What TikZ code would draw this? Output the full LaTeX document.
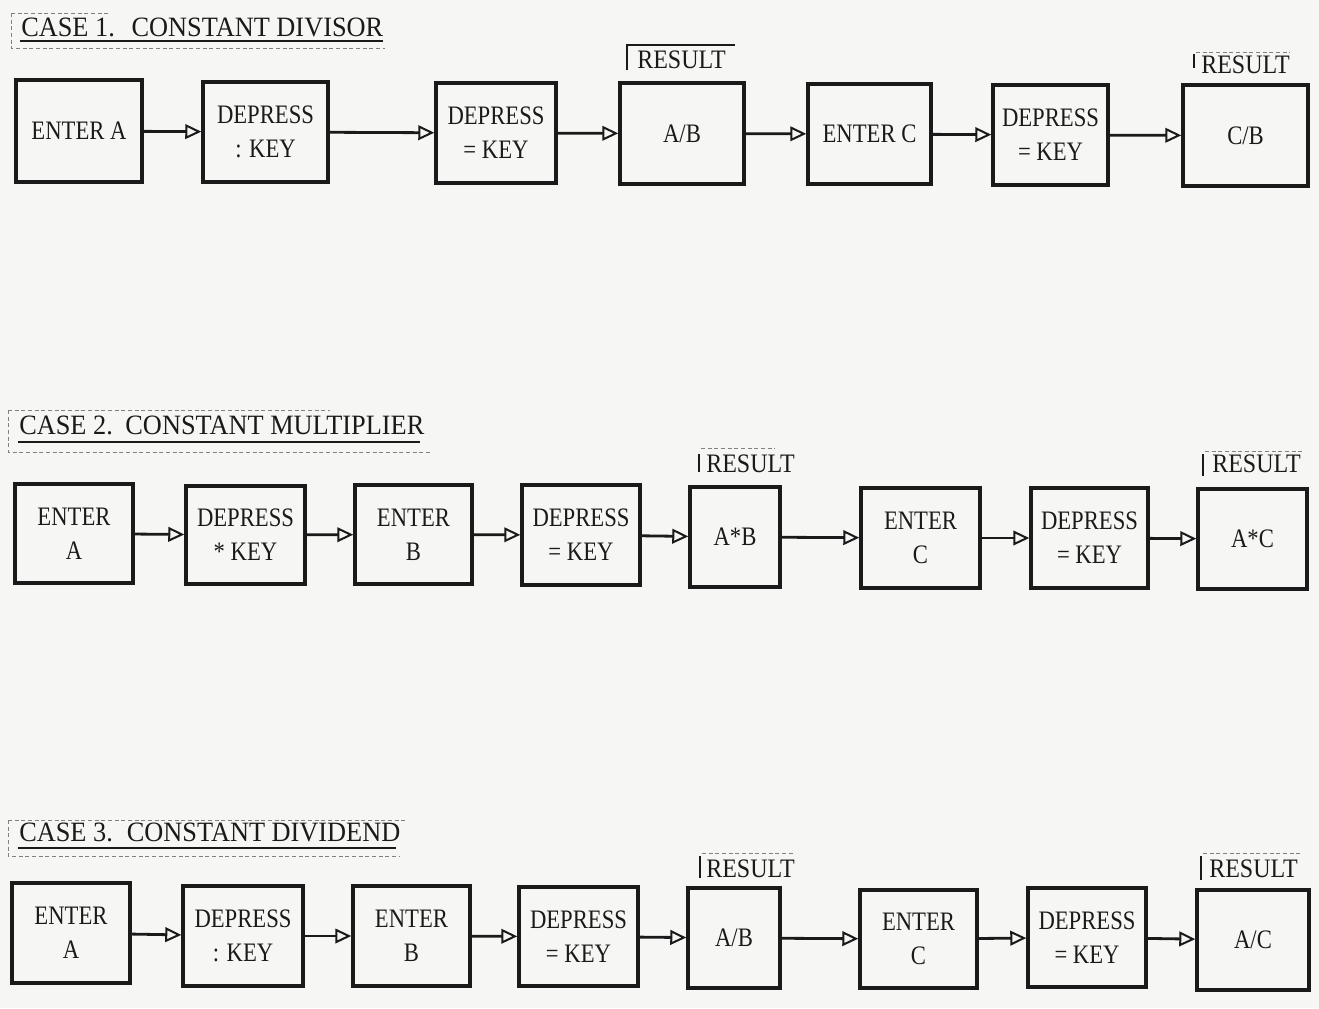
\documentclass[tikz,border=0pt]{standalone}
\usepackage{fontspec}
\setmainfont{Liberation Serif}
\newfontfamily\boxfont[FakeStretch=0.85]{Liberation Serif}
\newfontfamily\titlefont[FakeStretch=0.94]{Liberation Serif}
\newfontfamily\resfont[FakeStretch=0.9]{Liberation Serif}
\usetikzlibrary{arrows.meta,fit}
\definecolor{ink}{HTML}{1A1A1A}
\definecolor{paper}{HTML}{F6F6F4}
\tikzset{
  box/.style={draw=ink, line width=2.6pt, inner sep=0pt},
  btext/.style={inner sep=0pt, align=center, anchor=center,
    text=ink, font=\boxfont\fontsize{20}{25.5}\selectfont},
  flow/.style={draw=ink, line width=2.1pt, -{Triangle[open,length=12pt,width=11pt,line width=1.5pt]}},
  title/.style={anchor=base west, inner sep=0pt, text=ink, font=\titlefont\fontsize{21}{24}\selectfont},
  rlabel/.style={anchor=base west, inner sep=0pt, text=ink, font=\resfont\fontsize{20}{22}\selectfont},
  uline/.style={draw=ink, line width=1.8pt},
  frame/.style={draw=ink!55, line width=0.7pt, dash pattern=on 3pt off 2pt},
  tick/.style={draw=ink, line width=1.1pt},
}
% \bx{name}{x1}{y1}{x2}{y2}{text}
\newcommand\bx[6]{%
  \node[box, fit={(#2,#3) (#4,#5)}] (#1) {};
  \node[btext] (#1t) at (#1.center) {#6};
}
\begin{document}
\begin{tikzpicture}[x=0.75pt,y=-0.75pt]
\fill[paper] (0,0) rectangle (1319,1008);
\useasboundingbox (0,0) rectangle (1319,1008);

% ---------------- CASE 1 ----------------
\node[title] (t1) at (21,36) {CASE 1.\hspace{0.6em}CONSTANT DIVISOR};
\draw[uline] (20,41) -- (383,41);
\draw[frame] (11,13) -- (11,48) -- (385,48);
\draw[frame] (11,13) -- (110,13);

\bx{a1}{16}{80}{142}{182}{ENTER A}
\bx{b1}{203}{82}{328}{182}{DEPRESS\\: KEY}
\bx{c1}{436}{83}{556}{183}{DEPRESS\\= KEY}
\bx{d1}{620}{83}{744}{184}{A/B}
\bx{e1}{808}{84}{931}{184}{ENTER C}
\bx{f1}{993}{85}{1108}{185}{DEPRESS\\= KEY}
\bx{g1}{1183}{85}{1308}{186}{C/B}

\node[rlabel] (r1a) at (637,68) {RESULT};
\draw[tick] (627,70) -- (627,45) -- (735,45);
\node[rlabel] (r1b) at (1201,73) {RESULT};
\draw[tick] (1194,68) -- (1194,54);
\draw[frame] (1196,52) -- (1290,52);

\draw[flow] (a1) -- (b1);
\draw[flow] (b1) -- (c1);
\draw[flow] (c1) -- (d1);
\draw[flow] (d1) -- (e1);
\draw[flow] (e1) -- (f1);
\draw[flow] (f1) -- (g1);

% ---------------- CASE 2 ----------------
\node[title] (t2) at (19,434) {CASE 2.\hspace{0.45em}CONSTANT MULTIPLIER};
\draw[uline] (18,442) -- (420,442);
\draw[frame] (8,410) -- (8,452) -- (430,452);
\draw[frame] (8,410) -- (330,410);

\bx{a2}{15}{484}{133}{583}{ENTER\\A}
\bx{b2}{186}{486}{305}{584}{DEPRESS\\{*} KEY}
\bx{c2}{355}{485}{472}{584}{ENTER\\B}
\bx{d2}{522}{485}{640}{585}{DEPRESS\\= KEY}
\bx{e2}{690}{487}{780}{587}{A*B}
\bx{f2}{861}{488}{980}{588}{ENTER\\C}
\bx{g2}{1031}{488}{1148}{588}{DEPRESS\\= KEY}
\bx{h2}{1198}{489}{1307}{589}{A*C}

\node[rlabel] (r2a) at (706,472) {RESULT};
\draw[tick] (699,472) -- (699,454);
\draw[frame] (701,448) -- (775,448);
\node[rlabel] (r2b) at (1212,472) {RESULT};
\draw[tick] (1203,476) -- (1203,454);
\draw[frame] (1205,451) -- (1302,451);

\draw[flow] (a2) -- (b2);
\draw[flow] (b2) -- (c2);
\draw[flow] (c2) -- (d2);
\draw[flow] (d2) -- (e2);
\draw[flow] (e2) -- (f2);
\draw[flow] (f2) -- (g2);
\draw[flow] (g2) -- (h2);

% ---------------- CASE 3 ----------------
\node[title] (t3) at (19,841) {CASE 3.\hspace{0.5em}CONSTANT DIVIDEND};
\draw[uline] (18,848) -- (396,848);
\draw[frame] (8,820) -- (8,856) -- (400,856);
\draw[frame] (8,820) -- (405,820);

\bx{a3}{12}{883}{130}{983}{ENTER\\A}
\bx{b3}{183}{886}{303}{986}{DEPRESS\\: KEY}
\bx{c3}{353}{886}{470}{986}{ENTER\\B}
\bx{d3}{519}{887}{638}{986}{DEPRESS\\= KEY}
\bx{e3}{688}{888}{780}{988}{A/B}
\bx{f3}{860}{890}{977}{988}{ENTER\\C}
\bx{g3}{1028}{888}{1146}{987}{DEPRESS\\= KEY}
\bx{h3}{1197}{890}{1309}{990}{A/C}

\node[rlabel] (r3a) at (706,877) {RESULT};
\draw[tick] (700,878) -- (700,856);
\draw[frame] (702,853) -- (795,853);
\node[rlabel] (r3b) at (1209,877) {RESULT};
\draw[tick] (1201,880) -- (1201,856);
\draw[frame] (1203,853) -- (1302,853);

\draw[flow] (a3) -- (b3);
\draw[flow] (b3) -- (c3);
\draw[flow] (c3) -- (d3);
\draw[flow] (d3) -- (e3);
\draw[flow] (e3) -- (f3);
\draw[flow] (f3) -- (g3);
\draw[flow] (g3) -- (h3);
\end{tikzpicture}
\end{document}
